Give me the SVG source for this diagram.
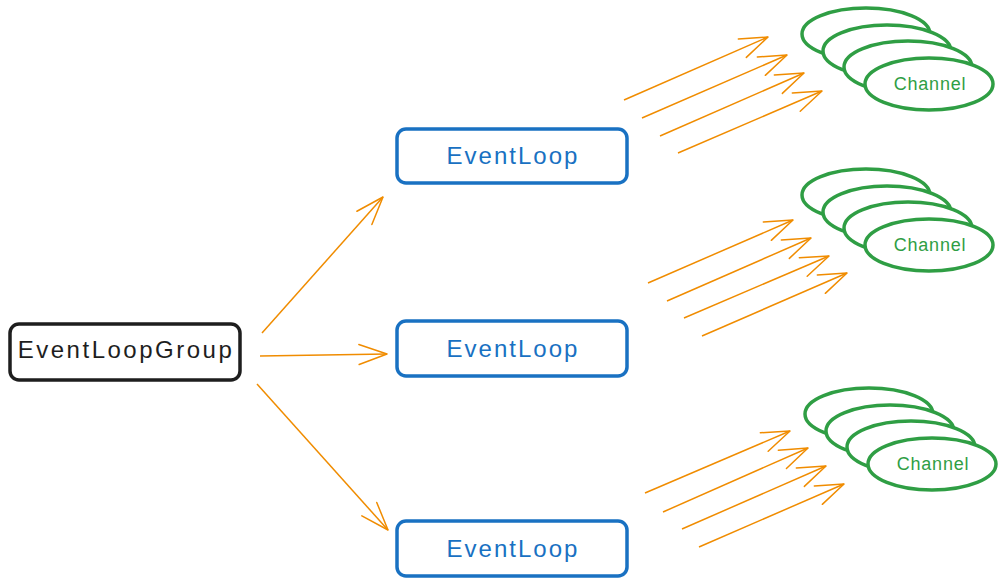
<svg xmlns="http://www.w3.org/2000/svg" width="1006" height="585" viewBox="0 0 1006 585">
<style>
.bg{fill:#ffffff}
.grp{fill:#ffffff;stroke:#1e1e1e;stroke-width:3.5}
.loop{fill:#ffffff;stroke:#1971c2;stroke-width:3.5}
.ch{fill:#ffffff;stroke:#2f9e44;stroke-width:3.5}
.t{font-family:"Liberation Sans",Arial,sans-serif;text-anchor:middle}
.tg{font-size:24px;fill:#1e1e1e;letter-spacing:2.5px}
.tl{font-size:24px;fill:#1971c2;letter-spacing:2px}
.tc{font-size:18px;fill:#2f9e44;letter-spacing:0.8px}
.c line{stroke:#f08c00;stroke-width:1.5;fill:none;marker-end:url(#ah)}
</style>
<defs>
<marker id="ah" viewBox="-30 -12 32 24" markerWidth="32" markerHeight="24" refX="0" refY="0" orient="auto" markerUnits="userSpaceOnUse">
<path d="M-28,-10 L0,0 L-28,10" fill="none" stroke="#f08c00" stroke-width="1.5" stroke-linecap="round" stroke-linejoin="round"/>
</marker>
</defs>
<rect class="bg" x="0" y="0" width="1006" height="585"/>
<g id="connectors" class="c">
<line x1="262" y1="333" x2="383" y2="197"/>
<line x1="260" y1="356" x2="387" y2="354"/>
<line x1="257" y1="384" x2="388" y2="530"/>
<line x1="624" y1="100" x2="768" y2="37"/>
<line x1="642" y1="118" x2="787" y2="55"/>
<line x1="660" y1="136" x2="804" y2="73"/>
<line x1="678" y1="153" x2="822" y2="91"/>
<line x1="648" y1="283" x2="793" y2="220"/>
<line x1="667" y1="301" x2="811" y2="238"/>
<line x1="684" y1="318" x2="829" y2="256"/>
<line x1="702" y1="336" x2="847" y2="273"/>
<line x1="645" y1="493" x2="790" y2="431"/>
<line x1="663" y1="512" x2="808" y2="448"/>
<line x1="682" y1="529" x2="826" y2="466"/>
<line x1="699" y1="547" x2="844" y2="484"/>
</g>
<g id="eventloopgroup">
<rect class="grp" x="10" y="324" width="230" height="56" rx="9"/>
<text class="t tg" x="126" y="358">EventLoopGroup</text>
</g>
<g id="eventloop1">
<rect class="loop" x="397" y="129" width="230" height="54" rx="9"/>
<text class="t tl" x="513" y="164">EventLoop</text>
</g>
<g id="eventloop2">
<rect class="loop" x="397" y="321" width="230" height="55" rx="9"/>
<text class="t tl" x="513" y="357">EventLoop</text>
</g>
<g id="eventloop3">
<rect class="loop" x="397" y="521" width="230" height="55" rx="9"/>
<text class="t tl" x="513" y="557">EventLoop</text>
</g>
<g id="channels1">
<ellipse class="ch" cx="866" cy="34" rx="64" ry="26"/>
<ellipse class="ch" cx="887" cy="51" rx="64" ry="26"/>
<ellipse class="ch" cx="908" cy="67" rx="64" ry="26"/>
<ellipse class="ch" cx="929" cy="84" rx="64" ry="26"/>
<text class="t tc" x="930" y="90">Channel</text>
</g>
<g id="channels2">
<ellipse class="ch" cx="866" cy="195" rx="64" ry="26"/>
<ellipse class="ch" cx="887" cy="212" rx="64" ry="26"/>
<ellipse class="ch" cx="908" cy="228" rx="64" ry="26"/>
<ellipse class="ch" cx="929" cy="245" rx="64" ry="26"/>
<text class="t tc" x="930" y="251">Channel</text>
</g>
<g id="channels3">
<ellipse class="ch" cx="869" cy="414" rx="64" ry="26"/>
<ellipse class="ch" cx="890" cy="431" rx="64" ry="26"/>
<ellipse class="ch" cx="911" cy="447" rx="64" ry="26"/>
<ellipse class="ch" cx="932" cy="464" rx="64" ry="26"/>
<text class="t tc" x="933" y="470">Channel</text>
</g>
</svg>
